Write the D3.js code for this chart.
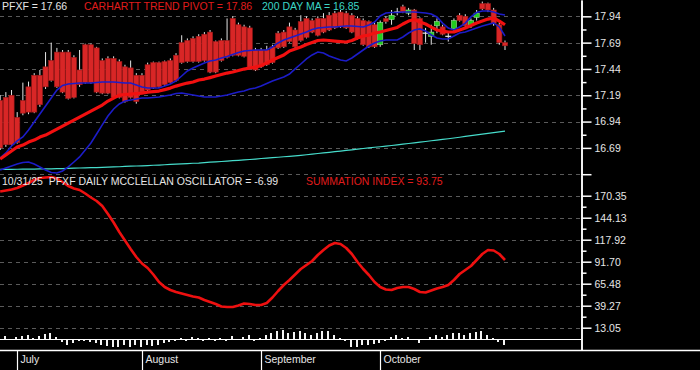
<!DOCTYPE html>
<html><head><meta charset="utf-8">
<script src="https://cdn.jsdelivr.net/npm/d3@7"></script>
<style>html,body{margin:0;padding:0;background:#000;overflow:hidden}svg{display:block}text{white-space:pre}</style>
</head><body>
<svg id="c" width="700" height="370"></svg>
<script>
// ---------- DATA ----------
const startDate = "2025-06-26", endDate = "2025-10-31";
const holidays = ["2025-07-04", "2025-09-01"];
const months = ["July", "August", "September", "October"];

const open = [17.14,17.17,17.19,16.98,17.14,17.27,17.38,17.38,17.46,17.52,
 17.60,17.60,17.60,17.55,17.43,17.67,17.67,17.64,17.52,17.54,
 17.54,17.51,17.46,17.45,17.38,17.38,17.48,17.50,17.50,17.51,
 17.52,17.57,17.69,17.71,17.73,17.75,17.77,17.79,17.70,17.71,
 17.71,17.92,17.86,17.84,17.83,17.62,17.62,17.62,17.65,17.78,
 17.79,17.84,17.81,17.89,17.92,17.90,17.92,17.92,17.95,17.97,
 17.98,17.97,17.95,17.92,17.90,17.89,17.86,17.67,17.92,17.91,
 17.98,18.03,17.97,18.00,17.92,17.78,17.75,17.85,17.84,17.75,
 17.82,17.95,17.94,17.85,17.93,18.06,18.06,18.00,17.86,17.69];
const high = [17.19,17.22,17.24,17.03,17.31,17.32,17.40,17.43,17.60,17.69,
 17.64,17.62,17.62,17.57,17.62,17.68,17.68,17.65,17.54,17.56,
 17.56,17.53,17.48,17.52,17.40,17.40,17.50,17.51,17.51,17.52,
 17.54,17.59,17.76,17.73,17.75,17.77,17.79,17.81,17.71,17.73,
 17.92,17.94,17.88,17.86,17.85,17.64,17.64,17.66,17.67,17.80,
 17.81,17.88,17.83,17.95,17.94,17.92,17.94,17.97,17.98,17.99,
 18.00,17.99,17.97,17.94,17.92,17.90,17.88,17.90,17.94,18.00,
 18.02,18.05,18.02,18.01,17.93,17.83,17.86,17.92,17.86,17.79,
 17.92,17.97,17.96,17.92,18.00,18.08,18.07,18.02,17.88,17.71];
const low = [16.67,16.70,16.71,16.73,17.00,17.01,17.02,17.08,17.25,17.32,
 17.26,17.21,17.15,17.16,17.27,17.30,17.30,17.21,17.20,17.20,
 17.16,17.16,17.12,17.16,17.11,17.21,17.23,17.25,17.26,17.28,
 17.30,17.32,17.49,17.50,17.50,17.50,17.51,17.40,17.40,17.51,
 17.54,17.56,17.56,17.55,17.44,17.42,17.45,17.47,17.49,17.63,
 17.64,17.69,17.64,17.70,17.73,17.78,17.75,17.78,17.80,17.82,
 17.83,17.82,17.78,17.72,17.66,17.64,17.64,17.65,17.87,17.86,
 17.95,17.97,17.95,17.62,17.62,17.69,17.67,17.78,17.76,17.70,
 17.79,17.89,17.83,17.83,17.90,18.00,17.98,17.85,17.67,17.62];
const close = [16.69,16.72,16.72,16.74,17.02,17.03,17.03,17.10,17.27,17.33,
 17.27,17.22,17.16,17.17,17.29,17.31,17.31,17.22,17.21,17.21,
 17.17,17.17,17.13,17.17,17.13,17.22,17.24,17.26,17.27,17.29,
 17.31,17.33,17.50,17.51,17.51,17.51,17.52,17.41,17.41,17.52,
 17.55,17.57,17.57,17.56,17.45,17.43,17.46,17.48,17.50,17.64,
 17.65,17.70,17.65,17.71,17.74,17.79,17.76,17.79,17.81,17.83,
 17.84,17.83,17.79,17.73,17.67,17.65,17.65,17.88,17.89,17.95,
 17.98,17.98,18.00,17.68,17.67,17.78,17.79,17.89,17.77,17.75,
 17.90,17.90,17.85,17.90,17.97,18.01,18.00,17.87,17.69,17.66];

const trendPivot = [16.584,16.622,16.660,16.698,16.717,16.745,16.764,16.793,16.812,16.840,
 16.869,16.897,16.926,16.954,16.983,17.011,17.040,17.068,17.097,17.135,
 17.163,17.192,17.197,17.201,17.206,17.211,17.220,17.225,17.230,17.244,
 17.258,17.277,17.292,17.306,17.316,17.335,17.344,17.358,17.373,17.387,
 17.401,17.411,17.425,17.439,17.449,17.458,17.472,17.496,17.525,17.548,
 17.572,17.610,17.629,17.648,17.672,17.691,17.710,17.715,17.710,17.705,
 17.700,17.696,17.710,17.734,17.753,17.762,17.781,17.791,17.805,17.819,
 17.834,17.867,17.895,17.910,17.886,17.867,17.838,17.810,17.800,17.791,
 17.791,17.810,17.829,17.853,17.876,17.895,17.914,17.924,17.895,17.860];
const upperBand = [16.594,16.642,16.708,16.756,16.794,16.860,16.936,17.012,17.088,17.164,
 17.240,17.283,17.297,17.302,17.307,17.307,17.307,17.311,17.316,17.316,
 17.316,17.311,17.307,17.307,17.288,17.269,17.259,17.259,17.259,17.278,
 17.297,17.326,17.373,17.421,17.449,17.473,17.497,17.516,17.525,17.544,
 17.558,17.577,17.596,17.611,17.615,17.620,17.620,17.620,17.649,17.687,
 17.715,17.734,17.753,17.772,17.791,17.815,17.829,17.834,17.839,17.839,
 17.843,17.848,17.848,17.843,17.839,17.858,17.886,17.943,17.972,17.976,
 17.976,17.981,17.981,17.981,17.976,17.972,17.962,17.934,17.876,17.829,
 17.810,17.839,17.876,17.934,17.976,17.990,17.990,17.981,17.962,17.953];
const lowerBand = [16.480,16.499,16.518,16.537,16.551,16.556,16.537,16.509,16.480,16.456,
 16.452,16.471,16.509,16.556,16.604,16.670,16.737,16.822,16.908,16.993,
 17.060,17.107,17.136,17.145,17.155,17.164,17.164,17.169,17.174,17.183,
 17.193,17.207,17.212,17.202,17.193,17.183,17.174,17.174,17.174,17.183,
 17.193,17.207,17.221,17.231,17.250,17.259,17.278,17.302,17.326,17.345,
 17.364,17.392,17.440,17.487,17.535,17.573,17.601,17.592,17.563,17.544,
 17.525,17.516,17.544,17.582,17.620,17.658,17.687,17.706,17.715,17.715,
 17.715,17.744,17.781,17.810,17.820,17.801,17.763,17.734,17.725,17.725,
 17.753,17.781,17.791,17.810,17.829,17.848,17.862,17.877,17.839,17.753];
const ma200 = [16.485,16.486,16.486,16.487,16.488,16.488,16.489,16.490,16.490,16.491,
 16.493,16.494,16.496,16.497,16.499,16.500,16.502,16.503,16.505,16.507,
 16.509,16.511,16.514,16.516,16.518,16.520,16.522,16.525,16.527,16.530,
 16.533,16.535,16.538,16.541,16.544,16.546,16.550,16.554,16.557,16.561,
 16.565,16.569,16.572,16.576,16.580,16.584,16.589,16.593,16.597,16.601,
 16.606,16.610,16.614,16.619,16.625,16.631,16.637,16.642,16.648,16.654,
 16.660,16.666,16.672,16.678,16.684,16.690,16.696,16.701,16.707,16.713,
 16.719,16.725,16.732,16.738,16.745,16.751,16.758,16.764,16.771,16.777,
 16.784,16.791,16.799,16.806,16.813,16.821,16.828,16.835,16.843,16.850];

const summation = [175.37,176.56,177.76,179.55,182.52,185.50,189.08,191.46,192.06,192.65,
 190.87,186.69,181.93,178.95,177.16,172.99,168.22,164.05,158.09,148.56,
 138.43,127.11,116.97,106.84,97.31,89.56,84.20,76.45,67.52,61.56,
 57.98,55.60,53.81,52.02,50.23,49.04,46.06,43.68,41.30,38.32,
 37.72,37.72,39.51,41.89,41.30,40.10,40.10,42.49,49.04,56.79,
 63.94,69.90,76.45,83.01,87.78,92.54,99.69,105.65,111.01,113.99,
 112.80,108.04,100.88,91.35,83.01,75.86,67.52,61.56,58.58,57.98,
 60.36,61.56,61.56,59.17,55.60,55.00,57.39,59.77,61.56,63.94,
 69.90,77.05,81.82,86.58,93.73,100.88,105.65,105.06,100.88,93.75];
const oscillator = [0.60,2.98,-1.19,1.79,2.98,4.77,0.60,3.58,5.96,6.55,
 1.79,-3.58,-7.15,-4.77,-2.38,-2.98,-3.58,-5.36,-7.75,-8.34,
 -9.53,-9.53,-7.75,-9.53,-7.75,-10.13,-7.75,-8.34,-7.75,-5.36,
 -3.58,-2.98,1.19,-2.38,1.79,1.19,-2.38,1.19,-2.98,1.19,
 -2.38,2.98,-1.19,1.79,4.77,-2.98,1.19,4.17,6.55,8.94,
 10.73,6.55,8.34,8.94,6.55,4.77,7.15,8.94,8.94,4.17,
 0.60,-2.98,-9.53,-9.53,-7.15,-7.75,-5.96,-5.36,-2.38,1.79,
 4.17,0.60,2.38,-1.19,-4.77,-1.19,2.38,4.77,2.38,4.17,
 6.55,7.15,4.77,7.15,7.75,8.94,4.77,0.60,-3.58,-6.99];

const priceTicks = [17.94, 17.69, 17.44, 17.19, 16.94, 16.69, 16.44];
const priceTickLabels = ["17.94", "17.69", "17.44", "17.19", "16.94", "16.69", ""];
const oscTicks = [170.35, 144.13, 117.92, 91.70, 65.48, 39.27, 13.05];
const oscTickLabels = ["170.35", "144.13", "117.92", "91.70", "65.48", "39.27", "13.05"];

// ---------- SETUP ----------
const fmt = d3.utcFormat("%Y-%m-%d");
const dates = d3.utcDay.range(new Date(startDate + "T00:00Z"), d3.utcDay.offset(new Date(endDate + "T00:00Z"), 1))
  .filter(d => d.getUTCDay() % 6 !== 0 && !holidays.includes(fmt(d))).map(fmt);

const W = 700, H = 370, plotR = 581.5, topB = 175, botB = 350;
const FONT = "'Liberation Sans', Arial, sans-serif";
const svg = d3.select("#c");
svg.append("rect").attr("width", W).attr("height", H).attr("fill", "#000");

const x = d3.scalePoint().domain(dates).range([0.18, 505]);
const yP = d3.scaleLinear().domain([16.4325, 18.095]).range([topB, 0]);
const yO = d3.scaleLinear().domain([-13.53, 195.03]).range([botB, topB]);

const defs = svg.append("defs");
defs.append("clipPath").attr("id", "clipTop").append("rect").attr("x", 0).attr("y", 0).attr("width", plotR).attr("height", topB);
defs.append("clipPath").attr("id", "clipBot").append("rect").attr("x", 0).attr("y", topB).attr("width", plotR).attr("height", botB - topB);

// gridlines
const grid = svg.append("g").attr("stroke", "#5a5a5a").attr("stroke-dasharray", "4,4").attr("shape-rendering", "crispEdges");
priceTicks.forEach(v => {
  const yy = Math.round(yP(v)) + 0.5;
  grid.append("line").attr("x1", 0).attr("x2", plotR).attr("y1", yy).attr("y2", yy);
});
oscTicks.forEach(v => {
  const yy = Math.round(yO(v)) + 0.5;
  grid.append("line").attr("x1", 0).attr("x2", plotR).attr("y1", yy).attr("y2", yy);
});

// ---------- TOP PANEL ----------
const topG = svg.append("g").attr("clip-path", "url(#clipTop)");
const bars = dates.map((d, i) => ({d, o: open[i], h: high[i], l: low[i], c: close[i]}));
const cg = topG.append("g");
cg.selectAll("line.wick").data(bars).join("line").attr("class", "wick")
  .attr("x1", d => x(d.d)).attr("x2", d => x(d.d))
  .attr("y1", d => yP(d.h)).attr("y2", d => yP(d.l))
  .attr("stroke", "#e4e4e4").attr("stroke-width", 1);
cg.selectAll("rect.body").data(bars.filter(b => b.o !== b.c)).join("rect").attr("class", "body")
  .attr("x", d => x(d.d) - 2.6).attr("width", 5.2)
  .attr("y", d => yP(Math.max(d.o, d.c)))
  .attr("height", d => Math.max(1, Math.abs(yP(d.o) - yP(d.c))))
  .attr("fill", d => d.c > d.o ? "#22cc1e" : "#d82626")
  .attr("stroke", d => d.c > d.o ? "#9ad894" : "#9a1818").attr("stroke-width", 0.6);
cg.selectAll("line.doji").data(bars.filter(b => b.o === b.c)).join("line").attr("class", "doji")
  .attr("x1", d => x(d.d) - 3).attr("x2", d => x(d.d) + 3)
  .attr("y1", d => yP(d.o)).attr("y2", d => yP(d.o))
  .attr("stroke", "#e8e8e8").attr("stroke-width", 1.2);

const lineP = arr => d3.line().x((v, i) => x(dates[i])).y(v => yP(v))(arr);
topG.append("path").attr("d", lineP(ma200)).attr("fill", "none").attr("stroke", "#46dccb").attr("stroke-width", 1.2);
topG.append("path").attr("d", lineP(lowerBand)).attr("fill", "none").attr("stroke", "#1c1cc8").attr("stroke-width", 1.6);
topG.append("path").attr("d", lineP(upperBand)).attr("fill", "none").attr("stroke", "#1c1cc8").attr("stroke-width", 1.6);
topG.append("path").attr("d", lineP(trendPivot)).attr("fill", "none").attr("stroke", "#f21010").attr("stroke-width", 3.2).attr("stroke-linejoin", "round");

// ---------- LOWER PANEL ----------
const botG = svg.append("g").attr("clip-path", "url(#clipBot)");
botG.append("path").attr("d", d3.line().x((v, i) => x(dates[i])).y(v => yO(v))(summation))
  .attr("fill", "none").attr("stroke", "#ee1010").attr("stroke-width", 2.6).attr("stroke-linejoin", "round");
const y0 = Math.round(yO(0));
botG.selectAll("rect.osc").data(oscillator).join("rect").attr("class", "osc")
  .attr("x", (v, i) => Math.round(x(dates[i])) - 2).attr("width", 2)
  .attr("y", v => v >= 0 ? Math.round(yO(v)) : y0)
  .attr("height", v => Math.max(1, Math.abs(Math.round(yO(v)) - y0)))
  .attr("fill", "#f4f4f4").attr("shape-rendering", "crispEdges");
svg.append("line").attr("x1", 0).attr("x2", plotR).attr("y1", y0 + 0.5).attr("y2", y0 + 0.5)
  .attr("stroke", "#fff").attr("stroke-width", 1.2);

// ---------- AXES ----------
const axTop = d3.axisRight(yP).tickValues(priceTicks).tickSize(10).tickSizeOuter(0).tickPadding(3)
  .tickFormat((v, i) => priceTickLabels[i]);
const axTopMinor = d3.axisRight(yP).tickValues(d3.pairs(priceTicks.slice(0, 6)).map(p => (p[0] + p[1]) / 2)).tickSize(5).tickSizeOuter(0).tickFormat("");
const axBot = d3.axisRight(yO).tickValues(oscTicks).tickSize(10).tickSizeOuter(0).tickPadding(3)
  .tickFormat((v, i) => oscTickLabels[i]);
const axBotMinor = d3.axisRight(yO).tickValues(d3.pairs(oscTicks).map(p => (p[0] + p[1]) / 2)).tickSize(5).tickSizeOuter(0).tickFormat("");
[axTop, axTopMinor, axBot, axBotMinor].forEach(ax => {
  const g = svg.append("g").attr("transform", `translate(${plotR},0)`).call(ax);
  g.selectAll("path.domain").attr("stroke", "#fff").attr("stroke-width", 1.5);
  g.selectAll(".tick line").attr("stroke", "#fff").attr("stroke-width", 1.5);
  g.selectAll(".tick text").attr("fill", "#e6e6e6").attr("font-size", "10.5px").attr("font-family", FONT);
});

// bottom date axis
svg.append("line").attr("x1", 0).attr("x2", W).attr("y1", botB + 0.5).attr("y2", botB + 0.5).attr("stroke", "#fff").attr("stroke-width", 1.5);
const monthFirst = months.map((m, k) => ({m, d: dates.find(d => +d.slice(5, 7) === 7 + k)}));
const mg = svg.append("g");
monthFirst.forEach(o => {
  const xx = Math.round(x(o.d)) + 0.5;
  mg.append("line").attr("x1", xx).attr("x2", xx).attr("y1", botB).attr("y2", H).attr("stroke", "#fff").attr("stroke-width", 1.2);
  mg.append("text").attr("x", xx + 3).attr("y", 363).text(o.m)
    .attr("fill", "#e6e6e6").attr("font-size", "10.5px").attr("font-family", FONT);
});

// ---------- TITLES ----------
const T = (tx, xx, yy, col) => svg.append("text").attr("x", xx).attr("y", yy).text(tx)
  .attr("fill", col).attr("font-size", "10.5px").attr("font-family", FONT);
T("PFXF = " + close[close.length - 1].toFixed(2), 2, 10, "#e6e6e6");
T("CARHARTT TREND PIVOT = " + trendPivot[trendPivot.length - 1].toFixed(2), 84, 10, "#e01c1c");
T("200 DAY MA = " + ma200[ma200.length - 1].toFixed(2), 262, 10, "#3cd6c6");
T("10/31/25  PFXF DAILY MCCLELLAN OSCILLATOR = " + oscillator[oscillator.length - 1].toFixed(2), 2, 185, "#e6e6e6");
T("SUMMATION INDEX = " + summation[summation.length - 1].toFixed(2), 306, 185, "#e01c1c");
</script>
</body></html>
